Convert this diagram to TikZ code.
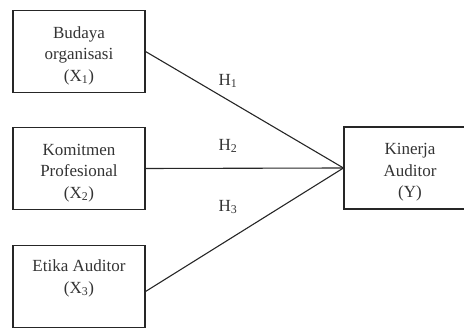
\documentclass[tikz,border=0pt]{standalone}
\usepackage{fontspec}
\setmainfont{Liberation Serif}
\usetikzlibrary{positioning,calc}
\newcommand{\topgap}{\rule{0pt}{20pt}}
\tikzset{varbox/.style={draw=black!85,line width=1.1pt,minimum width=132pt,minimum height=82pt,align=center,text=black!80,font=\fontsize{17}{21.5}\selectfont},
  hlabel/.style={text=black!80,font=\fontsize{17}{20}\selectfont}}

\begin{document}
\begin{tikzpicture}[x=1pt,y=1pt]
    \clip (0,0) rectangle (464,329);
	  \node[varbox] (x1) at (79,277.5) {\topgap Budaya\\organisasi\\(X\textsubscript{1})};
	  \node[varbox] (x2) at (79,160.5) {\topgap Komitmen\\Profesional\\(X\textsubscript{2})};
	  \node[varbox] (x3) at (79,42.5) {\topgap Etika Auditor\\(X\textsubscript{3})\\\strut};
	  \node[varbox] (y) at (410,161) {\topgap Kinerja\\Auditor\\(Y)};
		\draw[black!85,line width=1.1pt] (x1.east) -- (y.west);
		\draw[black!85,line width=1.1pt] (x2.east) -- (y.west);
		\draw[black!85,line width=1.1pt] ([yshift=-5pt]x3.east) -- (y.west);
		\node[hlabel] (h1) at (228,248) {H\textsubscript{1}};
		\node[hlabel] (h2) at (228,183) {H\textsubscript{2}};
		\node[hlabel] (h3) at (228,122) {H\textsubscript{3}};
\end{tikzpicture}
\end{document}
